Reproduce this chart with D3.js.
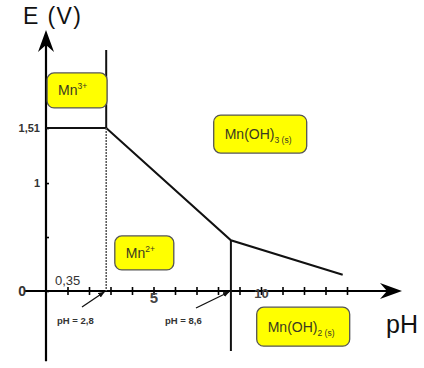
<!DOCTYPE html>
<html>
<head>
<meta charset="utf-8">
<script src="https://cdn.jsdelivr.net/npm/d3@7"></script>
<style>
  body { margin: 0; background: #fff; }
  svg { display: block; font-family: "Liberation Sans", Arial, sans-serif; }
</style>
</head>
<body>
<svg id="chart" width="424" height="368"></svg>
<script>
// boundary lines of the E-pH diagram
const boundaryPH = [0, 2.8, 8.6, 13.8];
const boundaryE = [1.51, 1.51, 0.47, 0.15];
const verticalPH = [2.8, 8.6];
const xTickValues = [1, 2, 3, 4, 5, 6, 7, 8, 9, 10, 11, 12, 13, 14];
const xTickLabels = { 5: "5", 10: "10" };
const yTickValues = [0, 0.5, 1, 1.51];
const yTickLabels = { 0: "0", 1: "1", 1.51: "1,51" };
// species zones: label, superscript/subscript, position (pH, E)
const species = [
  { name: "Mn", sup: "3+", sub: null, ph: 0.05, e: 2.02, w: 60, h: 35 },
  { name: "Mn(OH)", sup: null, sub: "3 (s)", ph: 7.8, e: 1.63, w: 93, h: 38 },
  { name: "Mn", sup: "2+", sub: null, ph: 3.2, e: 0.51, w: 59, h: 34 },
  { name: "Mn(OH)", sup: null, sub: "2 (s)", ph: 9.8, e: -0.15, w: 93, h: 39 }
];
const phMarks = [
  { label: "pH = 2,8", ph: 2.8, from: [82, 307], tx: 57 },
  { label: "pH = 8,6", ph: 8.6, from: [196, 308], tx: 165 }
];

const svg = d3.select("#chart");
const x = d3.scaleLinear().domain([0, 14]).range([46, 347]);
const y = d3.scaleLinear().domain([0, 1.51]).range([291, 128]);

const defs = svg.append("defs");
defs.append("marker")
  .attr("id", "small")
  .attr("viewBox", "0 0 10 10")
  .attr("refX", 9).attr("refY", 5)
  .attr("markerWidth", 5).attr("markerHeight", 5)
  .attr("orient", "auto")
  .append("path").attr("d", "M0,1 L10,5 L0,9 Z").attr("fill", "#111");

// y axis
svg.append("line")
  .attr("x1", x(0)).attr("x2", x(0))
  .attr("y1", y(-0.65)).attr("y2", 45)
  .attr("stroke", "#000").attr("stroke-width", 2.2);
svg.append("path")
  .attr("d", `M${x(0)},30 L${x(0) + 8},52 L${x(0)},45 L${x(0) - 8},52 Z`)
  .attr("fill", "#000");

// x axis
svg.append("line")
  .attr("x1", 25).attr("x2", 388)
  .attr("y1", y(0)).attr("y2", y(0))
  .attr("stroke", "#000").attr("stroke-width", 2.2);
svg.append("path")
  .attr("d", `M402,${y(0)} L380,${y(0) - 8} L387,${y(0)} L380,${y(0) + 8} Z`)
  .attr("fill", "#000");

const xAxis = svg.append("g")
  .attr("transform", `translate(0,${y(0)})`)
  .call(d3.axisBottom(x).tickValues(xTickValues).tickSize(4)
    .tickFormat(d => xTickLabels[d] || ""));
xAxis.select(".domain").remove();
xAxis.selectAll(".tick line").attr("y1", -4).attr("stroke-width", 1.6);
xAxis.selectAll(".tick text")
  .attr("y", d => d === 5 ? 1 : -2)
  .attr("font-size", d => d === 5 ? 15 : 13)
  .attr("font-weight", "bold")
  .attr("fill", "#444")
  .attr("font-family", "Liberation Sans, Arial, sans-serif");

const yAxis = svg.append("g")
  .attr("transform", `translate(${x(0)},0)`)
  .call(d3.axisLeft(y).tickValues(yTickValues).tickSize(3)
    .tickFormat(d => yTickLabels[d] || ""));
yAxis.select(".domain").remove();
yAxis.selectAll(".tick line").attr("x2", 3).attr("stroke-width", 1.6);
yAxis.selectAll(".tick text")
  .attr("x", d => d === 0 ? -20 : -6)
  .attr("font-size", d => d === 0 ? 14 : 11)
  .attr("font-weight", "bold")
  .attr("fill", "#333")
  .attr("font-family", "Liberation Sans, Arial, sans-serif");

// boundary lines
const pts = boundaryPH.map((p, i) => [x(p), y(boundaryE[i])]);
svg.append("path")
  .attr("d", d3.line()(pts))
  .attr("fill", "none").attr("stroke", "#111").attr("stroke-width", 2);

// vertical at pH 2.8: solid above 1.51, dotted below
svg.append("line")
  .attr("x1", x(verticalPH[0])).attr("x2", x(verticalPH[0]))
  .attr("y1", 50).attr("y2", y(1.51))
  .attr("stroke", "#111").attr("stroke-width", 2);
svg.append("line")
  .attr("x1", x(verticalPH[0])).attr("x2", x(verticalPH[0]))
  .attr("y1", y(1.51)).attr("y2", y(0))
  .attr("stroke", "#555").attr("stroke-width", 1.5)
  .attr("stroke-dasharray", "2,1");
// vertical at pH 8.6
svg.append("line")
  .attr("x1", x(verticalPH[1])).attr("x2", x(verticalPH[1]))
  .attr("y1", y(boundaryE[2])).attr("y2", 351)
  .attr("stroke", "#111").attr("stroke-width", 2);

// 0,35 label
svg.append("text")
  .attr("x", 55).attr("y", 285)
  .attr("font-size", 13).attr("fill", "#333")
  .text("0,35");

// pH arrows
phMarks.forEach(m => {
  svg.append("line")
    .attr("x1", m.from[0]).attr("y1", m.from[1])
    .attr("x2", x(m.ph) - 2).attr("y2", y(0) + 1)
    .attr("stroke", "#111").attr("stroke-width", 1.3)
    .attr("marker-end", "url(#small)");
  svg.append("text")
    .attr("x", m.tx).attr("y", 324)
    .attr("font-size", 9.5).attr("font-weight", "bold").attr("fill", "#333")
    .text(m.label);
});

// species boxes
species.forEach(s => {
  const bx = x(s.ph), by = y(s.e);
  svg.append("rect")
    .attr("x", bx).attr("y", by)
    .attr("width", s.w).attr("height", s.h)
    .attr("rx", 7)
    .attr("fill", "#ffff00").attr("stroke", "#555").attr("stroke-width", 1.3);
  const t = svg.append("text")
    .attr("x", bx + 11).attr("y", by + s.h / 2 + 5)
    .attr("font-size", 14).attr("fill", "#3a3a22")
    .attr("font-family", "Liberation Sans, Arial, sans-serif");
  t.append("tspan").text(s.name);
  if (s.sup) t.append("tspan").attr("dy", -6).attr("font-size", 8.5).text(s.sup);
  if (s.sub) t.append("tspan").attr("dy", 4).attr("font-size", 8.5).text(s.sub);
});

// axis titles
svg.append("text")
  .attr("x", 23).attr("y", 24)
  .attr("font-size", 23).attr("fill", "#111")
  .attr("textLength", 58).attr("lengthAdjust", "spacing")
  .text("E (V)");
svg.append("text")
  .attr("x", 386).attr("y", 333)
  .attr("font-size", 25).attr("fill", "#111")
  .text("pH");
</script>
</body>
</html>
